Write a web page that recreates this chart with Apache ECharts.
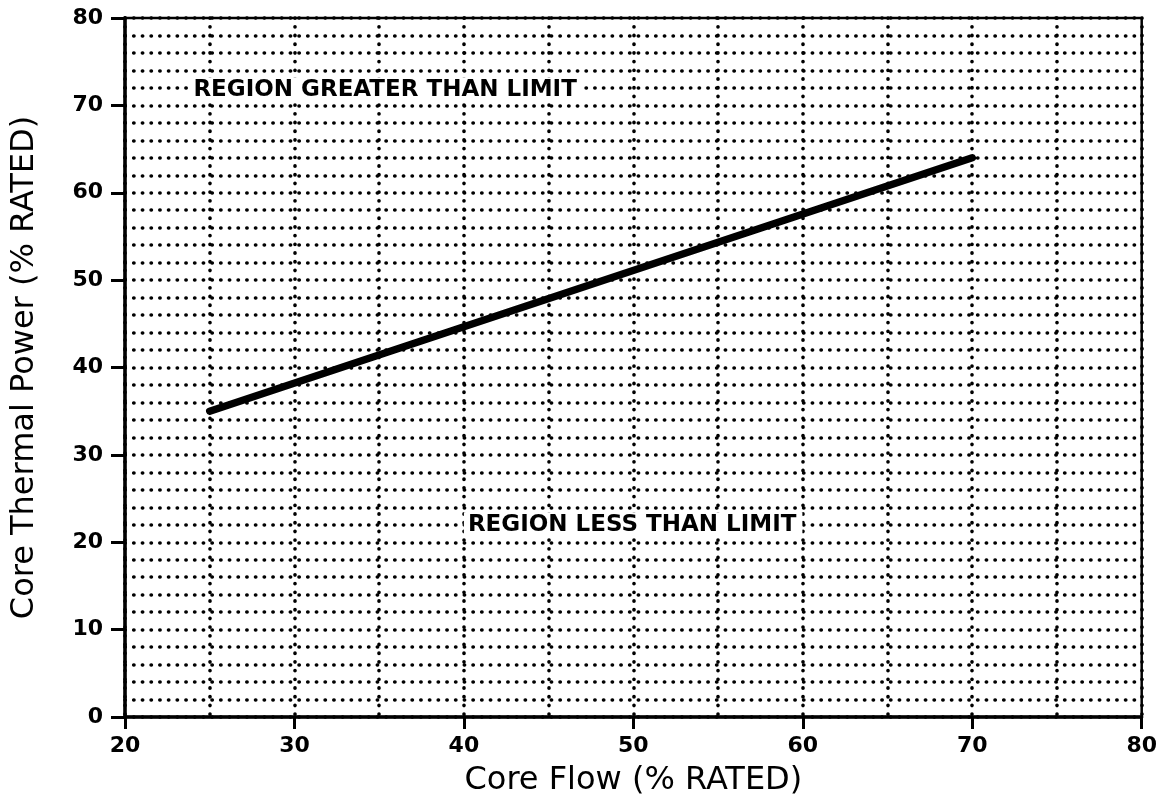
<!DOCTYPE html>
<html>
<head>
<meta charset="utf-8">
<script src="https://cdn.jsdelivr.net/npm/echarts@6/dist/echarts.min.js"></script>
<style>
  html, body { margin: 0; padding: 0; background: #fff; }
  #chart { width: 1160px; height: 802px; }
</style>
</head>
<body>
<div id="chart"></div>
<script>
// ---- data ----
const coreFlow = [25, 70];          // x values (% rated)
const corePower = [35, 64];         // y values (% rated)
const xTicks = [20, 30, 40, 50, 60, 70, 80];
const yTicks = [0, 10, 20, 30, 40, 50, 60, 70, 80];
const annotationText = ['REGION GREATER THAN LIMIT', 'REGION LESS THAN LIMIT'];
const annotationX = [23.8, 40.0];
const annotationY = [71.8, 22.0];

const FONT = '"DejaVu Sans", "Liberation Sans", sans-serif';
const dotted = { color: '#000', width: 3.6, type: [0.3, 8.4], cap: 'round' };

const chart = echarts.init(document.getElementById('chart'), null, { renderer: 'canvas' });

const option = {
  backgroundColor: '#fff',
  animation: false,
  grid: {
    left: 125, right: 15, top: 18, bottom: 85,
    show: true, borderColor: '#000', borderWidth: 2.5, backgroundColor: 'transparent'
  },
  xAxis: [
    {
      type: 'value', min: xTicks[0], max: xTicks[xTicks.length - 1], interval: 10,
      position: 'bottom',
      name: 'Core Flow (% RATED)', nameLocation: 'middle', nameGap: 48,
      nameTextStyle: { fontFamily: FONT, fontSize: 32, color: '#000' },
      axisLine: { show: true, lineStyle: { color: '#000', width: 3.5 } },
      axisTick: { show: true, inside: false, length: 12, lineStyle: { color: '#000', width: 3 } },
      axisLabel: { fontFamily: FONT, fontWeight: 'bold', fontSize: 22, color: '#000', margin: 18 },
      splitLine: { show: false }
    },
    {
      type: 'value', min: 20, max: 80, interval: 5, position: 'top',
      axisLine: { show: false }, axisTick: { show: false }, axisLabel: { show: false },
      splitLine: { show: true, lineStyle: dotted }
    }
  ],
  yAxis: [
    {
      type: 'value', min: yTicks[0], max: yTicks[yTicks.length - 1], interval: 10,
      position: 'left',
      name: 'Core Thermal Power (% RATED)', nameLocation: 'middle', nameGap: 84,
      nameTextStyle: { fontFamily: FONT, fontSize: 32, color: '#000' },
      axisLine: { show: true, lineStyle: { color: '#000', width: 3.5 } },
      axisTick: { show: true, inside: false, length: 14, lineStyle: { color: '#000', width: 3 } },
      axisLabel: { fontFamily: FONT, fontWeight: 'bold', fontSize: 22, color: '#000', margin: 22 },
      splitLine: { show: false }
    },
    {
      type: 'value', min: 0, max: 80, interval: 2, position: 'right',
      axisLine: { show: false }, axisTick: { show: false }, axisLabel: { show: false },
      splitLine: { show: true, lineStyle: dotted }
    }
  ],
  series: [
    {
      type: 'line',
      xAxisIndex: 0, yAxisIndex: 0,
      data: coreFlow.map((x, i) => [x, corePower[i]]),
      symbol: 'none',
      lineStyle: { color: '#000', width: 7.5, cap: 'round' },
      z: 5
    },
    {
      type: 'scatter',
      xAxisIndex: 0, yAxisIndex: 0,
      symbolSize: 0,
      itemStyle: { opacity: 1 },
      data: annotationText.map((t, i) => ({ value: [annotationX[i], annotationY[i]], name: t })),
      label: {
        show: true, position: 'right', distance: 0,
        formatter: p => p.name,
        fontFamily: FONT, fontWeight: 'bold', fontSize: 23, color: '#000', opacity: 1,
        textBorderWidth: 0,
        backgroundColor: '#fff', padding: [1, 6, 1, 4]
      },
      z: 6
    }
  ]
};

chart.setOption(option);
</script>
</body>
</html>
